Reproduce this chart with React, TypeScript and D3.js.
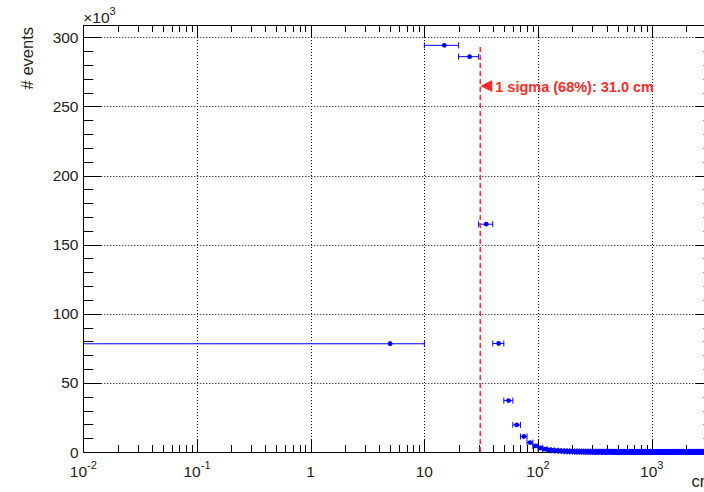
import React from "react";
import * as d3 from "d3";

// Event counts per 10 cm bin, from 0 cm up to 3500 cm
const counts: number[] = [
  78300, 294200, 286000, 164800, 78500, 37200, 19600, 11200, 6800, 4400,
  2900, 2050, 1520, 1170, 930, 760, 630, 530, 455, 395,
  345, 305, 272, 244, 220, 199, 181, 166, 152, 140,
  129, 120, 112, 104, 97, 91, 86, 81, 76, 72,
  68, 65, 61, 58, 56, 53, 51, 48, 46, 44,
  43, 41, 39, 38, 36, 35, 34, 32, 31, 30,
  29, 28, 27, 26, 26, 25, 24, 23, 23, 22,
  21, 21, 20, 19, 19, 18, 18, 17, 17, 16,
  16, 15, 15, 15, 14, 14, 13, 13, 13, 12,
  12, 12, 11, 11, 11, 11, 10, 10, 10, 10,
  9, 9, 9, 9, 8, 8, 8, 8, 8, 7,
  7, 7, 7, 7, 7, 6, 6, 6, 6, 6,
  6, 6, 6, 5, 5, 5, 5, 5, 5, 5,
  5, 5, 4, 4, 4, 4, 4, 4, 4, 4,
  4, 4, 4, 4, 3, 3, 3, 3, 3, 3,
  3, 3, 3, 3, 3, 3, 3, 3, 3, 2,
  2, 2, 2, 2, 2, 3, 2, 2, 2, 2,
  2, 2, 2, 2, 2, 2, 2, 2, 2, 2,
  2, 2, 2, 1, 2, 2, 1, 2, 1, 2,
  1, 2, 1, 1, 1, 2, 1, 1, 1, 1,
  1, 1, 1, 1, 1, 1, 1, 1, 1, 1,
  1, 1, 1, 1, 2, 1, 1, 1, 1, 1,
  1, 2, 1, 1, 1, 1, 1, 1, 1, 1,
  1, 1, 1, 2, 1, 1, 1, 1, 1, 1,
  1, 1, 1, 1, 1, 1, 2, 1, 1, 1,
  1, 1, 1, 1, 1, 1, 1, 1, 1, 1,
  1, 1, 1, 1, 1, 1, 1, 1, 1, 1,
  1, 1, 1, 1, 1, 1, 1, 1, 1, 1,
  1, 1, 1, 1, 1, 1, 1, 1, 1, 1,
  1, 1, 1, 1, 1, 1, 1, 1, 1, 1,
  1, 1, 1, 1, 1, 1, 1, 1, 1, 1,
  1, 1, 1, 1, 1, 1, 1, 1, 1, 1,
  1, 1, 1, 1, 1, 1, 1, 1, 1, 1,
  1, 1, 1, 1, 1, 1, 1, 1, 1, 1,
  1, 1, 1, 1, 1, 1, 1, 1, 1, 1,
];
const binWidth = 10;
const xDomain: [number, number] = [0.01, 3500];

// 68% containment radius
const sigmaValue = 31.0;
const sigmaLabel = "1 sigma (68%): 31.0 cm";

// Axis labels
const yMajorTicks = [0, 50000, 100000, 150000, 200000, 250000, 300000];
const yTickLabels = ["0", "50", "100", "150", "200", "250", "300"];
const xDecades = [0.01, 0.1, 1, 10, 100, 1000];
const xTickBases = ["10", "10", "1", "10", "10", "10"];
const xTickExps = ["-2", "-1", "", "", "2", "3"];
const xTitle = "cm";
const yTitle = "# events";

const W = 704;
const H = 492;
const left = 83.3;
const right = 713.6;
const top = 25;
const bottom = 452;
const font = "'Liberation Sans', Arial, Helvetica, sans-serif";
const blue = "#0000ff";
const red = "#ff2a2a";

export default function App() {
  const maxCount = d3.max(counts) as number;
  const x = d3.scaleLog().domain(xDomain).range([left, right]);
  const y = d3.scaleLinear().domain([0, maxCount * 1.05]).range([bottom, top]);

  const yMinor = d3.range(0, maxCount * 1.05, 10000).filter((v) => v % 50000 !== 0);
  const xMinor: number[] = [];
  for (const d of xDecades) {
    for (let k = 2; k <= 9; k++) {
      const v = d * k;
      if (v <= xDomain[1]) xMinor.push(v);
    }
  }

  const bins = counts.map((c, i) => {
    const lo = i * binWidth;
    const hi = lo + binWidth;
    return { lo, hi, center: (lo + hi) / 2, c, err: Math.sqrt(c) };
  });

  const sx = x(sigmaValue);
  const triY = y(maxCount * 0.9);

  return (
    <svg
      width={W}
      height={H}
      style={{ position: "absolute", left: 0, top: 0, background: "#fff" }}
      fontFamily={font}
    >
      <rect x={0} y={0} width={W} height={H} fill="#fff" />
      <defs>
        <clipPath id="frame">
          <rect x={left} y={top - 6} width={right - left} height={bottom - top + 12} />
        </clipPath>
      </defs>

      {/* grid */}
      <g stroke="#000" strokeWidth={1} strokeDasharray="1,2">
        {xDecades.slice(1).map((d) => (
          <line key={"gx" + d} x1={Math.round(x(d)) + 0.5} x2={Math.round(x(d)) + 0.5} y1={top} y2={bottom} />
        ))}
        {yMajorTicks.slice(1).map((v) => (
          <line key={"gy" + v} x1={left} x2={right} y1={Math.round(y(v)) + 0.5} y2={Math.round(y(v)) + 0.5} />
        ))}
      </g>

      {/* ticks */}
      <g stroke="#000" strokeWidth={1}>
        {yMajorTicks.map((v) => {
          const yy = Math.round(y(v)) + 0.5;
          return (
            <g key={"ty" + v}>
              <line x1={left} x2={left + 18} y1={yy} y2={yy} />
              <line x1={right} x2={right - 18} y1={yy} y2={yy} />
            </g>
          );
        })}
        {yMinor.map((v) => {
          const yy = Math.round(y(v)) + 0.5;
          return (
            <g key={"tym" + v}>
              <line x1={left} x2={left + 10} y1={yy} y2={yy} />
              <line x1={right} x2={right - 10} y1={yy} y2={yy} />
            </g>
          );
        })}
        {xDecades.map((d) => {
          const xx = Math.round(x(d)) + 0.5;
          return (
            <g key={"tx" + d}>
              <line x1={xx} x2={xx} y1={bottom} y2={bottom - 13} />
              <line x1={xx} x2={xx} y1={top} y2={top + 13} />
            </g>
          );
        })}
        {xMinor.map((d) => {
          const xx = Math.round(x(d)) + 0.5;
          return (
            <g key={"txm" + d}>
              <line x1={xx} x2={xx} y1={bottom} y2={bottom - 7} />
              <line x1={xx} x2={xx} y1={top} y2={top + 7} />
            </g>
          );
        })}
      </g>

      {/* frame */}
      <rect
        x={Math.round(left) + 0.5}
        y={top + 0.5}
        width={right - left}
        height={bottom - top}
        fill="none"
        stroke="#000"
        strokeWidth={1}
      />

      {/* histogram points with error bars */}
      <g clipPath="url(#frame)">
        {bins.map((b, i) => {
          const yy = y(b.c);
          const x0 = x(Math.max(b.lo, xDomain[0]));
          const x1 = x(b.hi);
          const cx = x(b.center);
          return (
            <g key={"b" + i} stroke={blue} strokeWidth={1}>
              <line x1={x0} x2={x1} y1={yy} y2={yy} />
              {b.lo >= xDomain[0] && <line x1={x0} x2={x0} y1={yy - 3} y2={yy + 3} />}
              <line x1={x1} x2={x1} y1={yy - 3} y2={yy + 3} />
              <line x1={cx} x2={cx} y1={y(b.c + b.err)} y2={y(b.c - b.err)} />
              <circle cx={cx} cy={yy} r={2.4} fill={blue} stroke="none" />
            </g>
          );
        })}
      </g>

      {/* 68% marker */}
      <line
        x1={sx}
        x2={sx}
        y1={y(0)}
        y2={y(maxCount)}
        stroke={red}
        strokeWidth={1.5}
        strokeDasharray="5,3"
      />
      <path
        d={`M${sx},${triY} L${sx + 12},${triY - 6} L${sx + 12},${triY + 6} Z`}
        fill={red}
      />
      <text x={sx + 15} y={triY + 5.5} fill={red} fontSize={14.5} fontWeight="bold">
        {sigmaLabel}
      </text>

      {/* y tick labels */}
      <g fontSize={15.5} fill="#222" textAnchor="end">
        {yMajorTicks.map((v, i) => (
          <text key={"ly" + v} x={78.5} y={y(v) + 5.6}>
            {yTickLabels[i]}
          </text>
        ))}
      </g>
      <text x={left} y={22.7} fontSize={15.5} fill="#222">
        ×10
        <tspan dy={-7.5} fontSize={11}>
          3
        </tspan>
      </text>

      {/* x tick labels */}
      <g fontSize={15.5} fill="#222" textAnchor="middle">
        {xDecades.map((d, i) => (
          <text key={"lx" + d} x={x(d)} y={477}>
            {xTickBases[i]}
            {xTickExps[i] && (
              <tspan dy={-8} fontSize={11}>
                {xTickExps[i]}
              </tspan>
            )}
          </text>
        ))}
      </g>

      {/* axis titles */}
      <text x={right} y={487} fontSize={16.5} fill="#222" textAnchor="end">
        {xTitle}
      </text>
      <text
        transform={`translate(33,${top + 2}) rotate(-90)`}
        fontSize={16.5}
        fill="#222"
        textAnchor="end"
      >
        {yTitle}
      </text>
    </svg>
  );
}
